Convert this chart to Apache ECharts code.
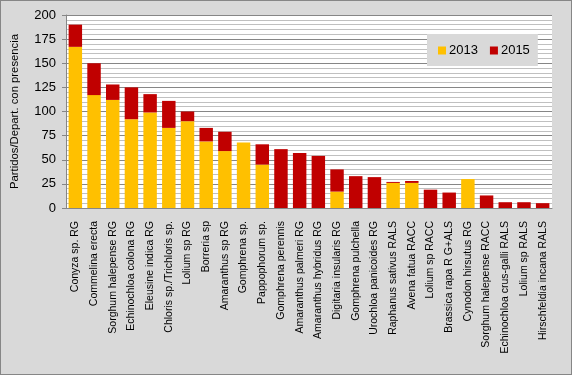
<!DOCTYPE html>
<html>
<head>
<meta charset="utf-8">
<script src="https://cdn.jsdelivr.net/npm/echarts@6/dist/echarts.min.js"></script>
<style>
  html, body { margin: 0; padding: 0; }
  #chart { width: 572px; height: 375px; box-sizing: border-box; border: 1px solid #868686; background: #d9d9d9; }
</style>
</head>
<body>
<div id="chart"></div>
<script>
// weeds, sorted as in the original figure
const categories = [
  'Conyza sp. RG', 'Commelina erecta', 'Sorghum halepense RG', 'Echinochloa colona RG',
  'Eleusine indica RG', 'Chloris sp./Trichloris sp.', 'Lolium sp RG', 'Borreria sp',
  'Amaranthus sp RG', 'Gomphrena sp.', 'Pappophorum sp.', 'Gomphrena perennis',
  'Amaranthus palmeri RG', 'Amaranthus hybridus RG', 'Digitaria insularis RG', 'Gomphrena pulchella',
  'Urochloa panicoides RG', 'Raphanus sativus RALS', 'Avena fatua RACC', 'Lolium sp RACC',
  'Brassica rapa R G+ALS', 'Cynodon hirsutus RG', 'Sorghum halepense RACC', 'Echinochloa crus-galli RALS',
  'Lolium sp RALS', 'Hirschfeldia incana RALS'
];
const values2013 = [167, 117, 112, 92, 99, 83, 90, 69, 59, 68, 45, 0, 0, 0, 17, 0, 0, 26, 26, 0, 0, 30, 0, 0, 0, 0];
const values2015 = [23, 33, 16, 33, 19, 28, 10, 14, 20, 0, 21, 61, 57, 54, 23, 33, 32, 1, 2, 19, 16, 0, 13, 6, 6, 5];

const chart = echarts.init(document.getElementById('chart'));
const font = 'Liberation Sans, Arial, sans-serif';

chart.setOption({
  animation: false,
  textStyle: { fontFamily: font },
  grid: { left: 62, right: 19, top: 14, bottom: 166, backgroundColor: '#fff', show: true, borderWidth: 0 },
  legend: {
    data: ['2013', '2015'],
    left: 426, top: 33,
    padding: [10, 8, 9, 11],
    backgroundColor: '#d9d9d9',
    itemWidth: 8, itemHeight: 8, itemGap: 12,
    icon: 'rect',
    textStyle: { fontSize: 13, color: '#000', fontFamily: font, padding: [0, 0, 0, -2] }
  },
  xAxis: {
    type: 'category',
    data: categories,
    axisLine: { lineStyle: { color: '#868686' } },
    axisTick: { show: false },
    axisLabel: { interval: 0, rotate: 90, fontSize: 10.5, color: '#000', margin: 13 }
  },
  yAxis: {
    type: 'value',
    min: 0, max: 200, interval: 25,
    name: 'Partidos/Depart. con presencia',
    nameLocation: 'middle',
    nameRotate: 90,
    nameGap: 46,
    nameTextStyle: { fontSize: 11.3, color: '#000' },
    axisLine: { show: true, lineStyle: { color: '#868686' } },
    axisTick: { show: true, length: 4, lineStyle: { color: '#868686' } },
    axisLabel: { fontSize: 13, color: '#000', margin: 10 },
    splitLine: { lineStyle: { color: '#868686' } },
    minorTick: { show: false, splitNumber: 5 },
    minorSplitLine: { show: true, lineStyle: { color: '#c0c0c0' } }
  },
  series: [
    { name: '2013', type: 'bar', stack: 'total', data: values2013, barCategoryGap: '28%', itemStyle: { color: '#ffc000' } },
    { name: '2015', type: 'bar', stack: 'total', data: values2015, itemStyle: { color: '#c00000' } }
  ]
});
</script>
</body>
</html>
